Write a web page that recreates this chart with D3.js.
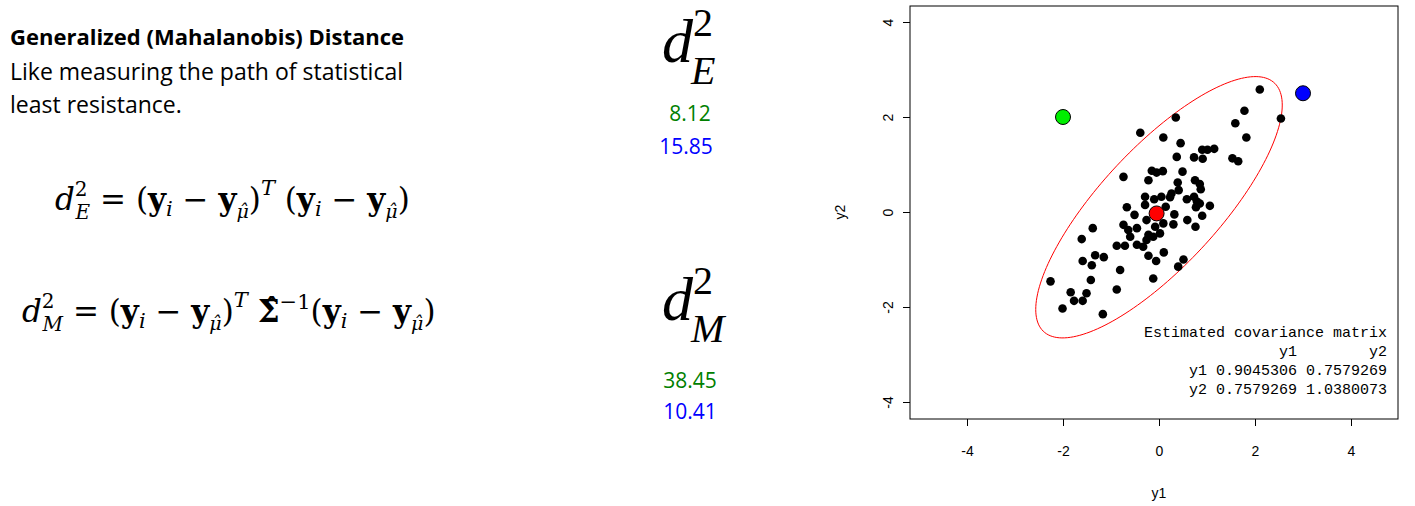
<!DOCTYPE html><html><head><meta charset="utf-8">
<script src="https://cdn.jsdelivr.net/npm/d3@7"></script>
<style>body{margin:0;background:#fff}</style></head><body>
<svg id="c" width="1415" height="506"></svg>
<script>
const ptsX=[2.10,2.54,1.78,1.59,1.82,0.35,-0.39,0.09,0.45,0.37,0.73,0.91,0.90,1.01,1.15,1.53,1.65,-0.74,-0.15,-0.05,0.08,0.49,-0.22,0.39,0.75,0.85,0.87,0.41,0.26,0.23,0.05,-0.10,-0.29,-0.29,0.58,0.73,0.79,0.85,0.77,1.06,-0.67,-0.51,0.14,0.32,0.90,-0.26,0.09,0.30,0.59,0.76,-1.38,-0.74,-0.64,-0.46,-0.60,-0.08,-0.22,-0.12,0.02,-0.26,-1.61,-0.88,-0.71,-0.46,-0.33,-1.33,-1.15,-0.22,0.10,-0.06,-1.59,-1.40,-0.81,0.51,0.40,-0.12,-1.42,-2.26,-0.88,-1.84,-1.77,-1.59,-1.51,-2.01,-1.17];
const ptsY=[2.58,1.97,2.13,1.87,1.57,1.99,1.67,1.57,1.45,1.16,1.15,1.12,1.31,1.31,1.33,1.13,1.07,0.74,0.87,0.83,0.86,0.85,0.67,0.62,0.67,0.59,0.48,0.46,0.39,0.31,0.32,0.27,0.32,0.15,0.27,0.32,0.22,0.18,0.10,0.13,0.10,-0.06,0.11,-0.05,-0.08,-0.17,-0.24,-0.26,-0.17,-0.31,-0.34,-0.27,-0.38,-0.34,-0.52,-0.31,-0.48,-0.52,-0.45,-0.59,-0.57,-0.71,-0.71,-0.69,-0.73,-0.91,-0.95,-0.92,-0.85,-1.03,-1.03,-1.12,-1.22,-1.00,-1.15,-1.40,-1.43,-1.46,-1.63,-1.69,-1.87,-1.87,-1.71,-2.03,-2.15];
const special=[{x:-2,y:2,c:"#00ee00"},{x:3,y:2.5,c:"#0000ff"},{x:-0.05,y:-0.03,c:"#ff0000"}];
const covMat=[[0.9045306,0.7579269],[0.7579269,1.0380073]];
const ellCenter=[0.0,0.1];
const ticks=[-4,-2,0,2,4];
const dE=["8.12","15.85"], dM=["38.45","10.41"];

const svg=d3.select("#c");
const x=d3.scaleLinear().domain([-4,4]).range([967,1351]);
const y=d3.scaleLinear().domain([-4,4]).range([402,22]);
const L=910,R=1398,T=6,B=419;
svg.append("rect").attr("x",L).attr("y",T).attr("width",R-L).attr("height",B-T).attr("fill","none").attr("stroke","#000");
const ax=svg.append("g").attr("transform",`translate(0,${B})`).call(d3.axisBottom(x).tickValues(ticks).tickFormat(d=>String(d)).tickSize(7).tickPadding(20));
const ay=svg.append("g").attr("transform",`translate(${L},0)`).call(d3.axisLeft(y).tickValues(ticks).tickFormat(d=>String(d)).tickSize(7));
[ax,ay].forEach(a=>{a.select(".domain").remove();a.selectAll("text").attr("font-family","Liberation Sans").attr("font-size",14).attr("fill","#000");});
ay.selectAll(".tick text").attr("transform","rotate(-90)").attr("text-anchor","middle").attr("x",0).attr("y",-22).attr("dy","0.35em");
svg.append("text").attr("x",1159).attr("y",498).attr("text-anchor","middle").attr("font-family","Liberation Sans").attr("font-size",14).text("y1");
svg.append("text").attr("transform","translate(845,212) rotate(-90)").attr("text-anchor","middle").attr("font-family","Liberation Sans").attr("font-size",14).text("y2");
const a=covMat[0][0],b=covMat[0][1],d=covMat[1][1];
const l11=Math.sqrt(a),l21=b/l11,l22=Math.sqrt(d-l21*l21),cc=2.7;
const ell=d3.range(0,361,2).map(t=>{const r=t*Math.PI/180,u=Math.cos(r),v=Math.sin(r);return [ellCenter[0]+cc*l11*u,ellCenter[1]+cc*(l21*u+l22*v)];});
svg.append("path").attr("d",d3.line().x(p=>x(p[0])).y(p=>y(p[1]))(ell)).attr("fill","none").attr("stroke","#ff0000").attr("stroke-width",1);
svg.selectAll(".p").data(ptsX).join("circle").attr("cx",v=>x(v)).attr("cy",(v,i)=>y(ptsY[i])).attr("r",4.3).attr("fill","#000");
svg.selectAll(".s").data(special).join("circle").attr("cx",p=>x(p.x)).attr("cy",p=>y(p.y)).attr("r",7.5).attr("fill",p=>p.c).attr("stroke","#000");
const mono=["Estimated covariance matrix","y1        y2","y1 0.9045306 0.7579269","y2 0.7579269 1.0380073"];
mono.forEach((t,i)=>svg.append("text").attr("x",1387).attr("y",337+i*19).attr("text-anchor","end").attr("font-family","Liberation Mono").attr("font-size",15).attr("xml:space","preserve").text(t));
const sans="Open Sans";
svg.append("text").attr("x",10).attr("y",45).attr("font-family",sans).attr("font-weight","bold").attr("font-size",22).text("Generalized (Mahalanobis) Distance");
svg.append("text").attr("x",10).attr("y",80).attr("font-family",sans).attr("font-size",23).text("Like measuring the path of statistical");
svg.append("text").attr("x",10).attr("y",113).attr("font-family",sans).attr("font-size",23).text("least resistance.");
function formula(yy,xx,sub,sigma){
 const t=svg.append("text").attr("x",xx).attr("y",yy).attr("font-family","DejaVu Serif").attr("font-size",31);
 t.append("tspan").attr("font-style","italic").text("d");
 t.append("tspan").attr("font-size",20).attr("dy",-14).text("2");
 t.append("tspan").attr("font-size",20).attr("font-style","italic").attr("dx",-12).attr("dy",23).text(sub);
 t.append("tspan").attr("dy",-9).text(" = (");
 const part=()=>{t.append("tspan").attr("font-weight","bold").text("y");t.append("tspan").attr("font-style","italic").attr("font-size",21).attr("dy",6).text("i");t.append("tspan").attr("dy",-6).text(" − ");t.append("tspan").attr("font-weight","bold").text("y");t.append("tspan").attr("font-style","italic").attr("font-size",19).attr("dy",8).text("μ̂");t.append("tspan").attr("dy",-8).text(")");};
 part();
 t.append("tspan").attr("font-style","italic").attr("font-size",21).attr("dy",-15).text("T");
 t.append("tspan").attr("dy",15).text(sigma?"  ":"  (");
 if(sigma){t.append("tspan").attr("font-weight","bold").text("Σ̂");t.append("tspan").attr("font-size",21).attr("dy",-13).text("−1");t.append("tspan").attr("dy",13).text("(");}
 part();
}
formula(210,55,"E",false);
formula(322,22,"M",true);
function big(yy,sub){const t=svg.append("text").attr("x",662).attr("y",yy).attr("font-family","Liberation Serif").attr("font-style","italic").attr("font-size",62);
 t.append("tspan").text("d");t.append("tspan").attr("font-size",40).attr("dy",-26).attr("font-style","normal").text("2");t.append("tspan").attr("font-size",40).attr("dx",-22).attr("dy",48).text(sub);}
big(62,"E");big(320,"M");
svg.append("text").attr("x",690).attr("y",121).attr("text-anchor","middle").attr("font-family",sans).attr("font-size",21).attr("fill","#008000").text(dE[0]);
svg.append("text").attr("x",686).attr("y",154).attr("text-anchor","middle").attr("font-family",sans).attr("font-size",21).attr("fill","#0000ff").text(dE[1]);
svg.append("text").attr("x",690).attr("y",388).attr("text-anchor","middle").attr("font-family",sans).attr("font-size",21).attr("fill","#008000").text(dM[0]);
svg.append("text").attr("x",690).attr("y",419).attr("text-anchor","middle").attr("font-family",sans).attr("font-size",21).attr("fill","#0000ff").text(dM[1]);
</script></body></html>
